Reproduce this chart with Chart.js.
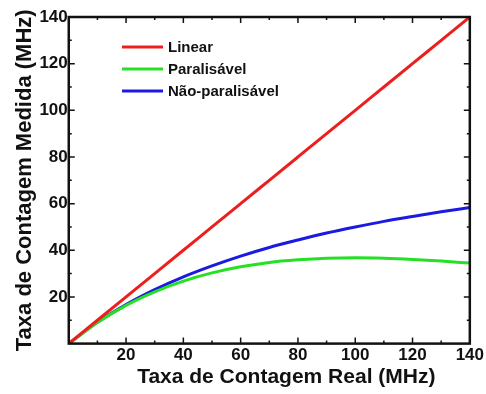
<!DOCTYPE html>
<html>
<head>
<meta charset="utf-8">
<script src="https://cdn.jsdelivr.net/npm/chart.js@4"></script>
<style>
  html, body { margin: 0; padding: 0; background: #fff; }
  #wrap { width: 486px; height: 394px; position: relative; }
</style>
</head>
<body>
<div id="wrap"><canvas id="rates"></canvas></div>
<script>
// --- DATA ---
const realRate = [0, 10, 20, 30, 40, 50, 60, 70, 80, 90, 100, 110, 120, 130, 140];
const linearRate = [0, 10, 20, 30, 40, 50, 60, 70, 80, 90, 100, 110, 120, 130, 140];
const paralisavel = [0, 9.0, 16.4, 22.2, 26.8, 30.3, 32.9, 34.8, 35.9, 36.6, 36.8, 36.6, 36.1, 35.4, 34.5];
const naoParalisavel = [0, 9.1, 16.7, 23.1, 28.6, 33.3, 37.5, 41.2, 44.4, 47.4, 50.0, 52.4, 54.5, 56.5, 58.3];
const tickValues = [20, 40, 60, 80, 100, 120, 140];

const FONT = "'Liberation Sans', Arial, sans-serif";
const pts = ys => realRate.map((x, i) => ({ x: x, y: ys[i] }));

// frame on all four sides + inward ticks (major every 20, minor every 10)
const framePlugin = {
    id: 'frame',
    afterDraw(chart) {
        const c = chart.ctx, a = chart.chartArea;
        const sx = chart.scales.x, sy = chart.scales.y;
        c.save();
        c.strokeStyle = '#111';
        c.lineWidth = 1.5;
        for (let v = 10; v < 140; v += 10) {
            const len = v % 20 === 0 ? 6 : 3;
            const px = sx.getPixelForValue(v);
            const py = sy.getPixelForValue(v);
            c.beginPath();
            c.moveTo(px, a.bottom); c.lineTo(px, a.bottom - len);
            c.moveTo(px, a.top); c.lineTo(px, a.top + len);
            c.moveTo(a.left, py); c.lineTo(a.left + len, py);
            c.moveTo(a.right, py); c.lineTo(a.right - len, py);
            c.stroke();
        }
        c.lineWidth = 2.5;
        c.strokeRect(a.left, a.top, a.right - a.left, a.bottom - a.top);

        // x axis title, sits a little right of the plot centre
        c.fillStyle = '#111';
        c.font = 'bold 21px ' + FONT;
        c.textAlign = 'center';
        c.textBaseline = 'middle';
        c.fillText('Taxa de Contagem Real (MHz)', (a.left + a.right) / 2 + 17, 377);
        c.restore();
    }
};

const ctx = document.getElementById('rates').getContext('2d');
new Chart(ctx, {
    type: 'line',
    data: {
        datasets: [
            { label: 'Linear', data: pts(linearRate), borderColor: '#ec1e1e' },
            { label: 'Paralisável', data: pts(paralisavel), borderColor: '#26e026' },
            { label: 'Não-paralisável', data: pts(naoParalisavel), borderColor: '#1a1ae0' }
        ].map(d => Object.assign(d, {
            borderWidth: 3,
            pointRadius: 0,
            fill: false,
            cubicInterpolationMode: 'monotone'
        }))
    },
    options: {
        responsive: true,
        maintainAspectRatio: false,
        animation: false,
        layout: { autoPadding: false, padding: { left: 12, right: 12, top: 17, bottom: 26 } },
        plugins: {
            tooltip: { enabled: false },
            legend: { display: false }
        },
        scales: {
            x: {
                type: 'linear', min: 0, max: 140,
                afterBuildTicks: s => { s.ticks = tickValues.map(v => ({ value: v })); },
                grid: { display: false, drawTicks: false },
                border: { display: false },
                ticks: { color: '#111', padding: 2, maxRotation: 0, font: { family: FONT, size: 17, weight: 'bold' } }
            },
            y: {
                type: 'linear', min: 0, max: 140,
                afterBuildTicks: s => { s.ticks = tickValues.map(v => ({ value: v })); },
                grid: { display: false, drawTicks: false },
                border: { display: false },
                ticks: { color: '#111', padding: 1, font: { family: FONT, size: 17, weight: 'bold' } },
                title: { display: true, text: 'Taxa de Contagem Medida (MHz)', color: '#111', padding: { top: 0, bottom: 0 },
                         font: { family: FONT, size: 22, weight: 'bold' } }
            }
        }
    },
    plugins: [framePlugin, {
        // legend block drawn inside the plot, upper left
        id: 'innerLegend',
        afterDraw(chart) {
            const c = chart.ctx;
            const rows = [47, 69, 91];
            c.save();
            c.font = 'bold 15px ' + FONT;
            c.textBaseline = 'middle';
            chart.data.datasets.forEach((d, i) => {
                c.strokeStyle = d.borderColor;
                c.lineWidth = 3;
                c.beginPath();
                c.moveTo(122, rows[i]); c.lineTo(163, rows[i]);
                c.stroke();
                c.fillStyle = '#111';
                c.fillText(d.label, 168, rows[i] + 1);
            });
            c.restore();
        }
    }]
});
</script>
</body>
</html>
